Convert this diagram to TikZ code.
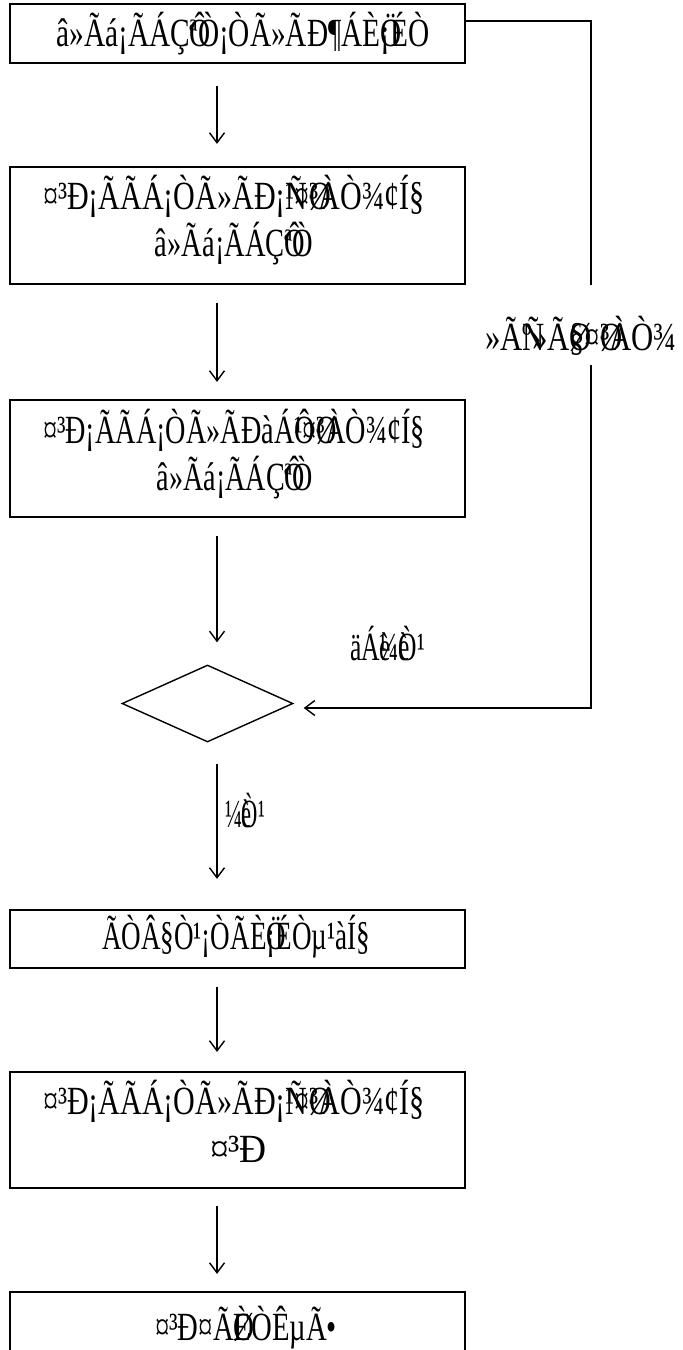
\documentclass[tikz,border=0pt]{standalone}
\usepackage{fontspec}
\usepackage{graphicx}
\setmainfont{Liberation Serif}
\usetikzlibrary{shapes.geometric,arrows.meta}
\newcommand\zw[1]{\rlap{#1}}
\newcommand\tw[2]{\resizebox{#1pt}{\height}{#2}}
\tikzset{
  flowbox/.style={draw, line width=2.2pt, rectangle, inner sep=0pt},
  conn/.style={line width=1.4pt},
  arr/.style={conn, -{Straight Barb[length=10pt,width=15pt,line width=1.4pt]}},
  txt/.style={anchor=base, inner sep=0pt, font=\fontsize{40pt}{46pt}\selectfont},
  decision/.style={draw, diamond, line width=1.4pt, inner sep=0pt, minimum width=171pt, minimum height=77pt},
}
\begin{document}
\begin{tikzpicture}[x=1pt,y=-1pt]
\useasboundingbox (0,0) rectangle (683,1350);
\begin{scope}
\clip (0,0) rectangle (683,1350);
% boxes
\node[flowbox, minimum width=455pt, minimum height=59pt] (b1) at (237.5,33.5) {};
\node[flowbox, minimum width=455pt, minimum height=117pt] (b2) at (237.5,225.5) {};
\node[flowbox, minimum width=455pt, minimum height=117pt] (b3) at (237.5,458.5) {};
\node[decision] (d) at (207.5,703.5) {};
\node[flowbox, minimum width=455pt, minimum height=58pt] (b5) at (237.5,939) {};
\node[flowbox, minimum width=455pt, minimum height=116pt] (b6) at (237.5,1130) {};
\node[flowbox, minimum width=455pt, minimum height=120pt] (b7) at (237.5,1352) {};
% texts
\node[txt] (t1) at (243,46) {\tw{373}{â»Ãá¡ÃÁÇ\zw{Ô}ªÒ¡ÒÃ»ÃÐ¶ÁÈ\zw{Ö}¡ÉÒ}};
\node[txt] (t2a) at (234,209) {\tw{382}{¤³Ð¡ÃÃÁ¡ÒÃ»ÃÐ¡\zw{Ñ}¹¤\zw{Ø}³ÀÒ¾¢Í§}};
\node[txt] (t2b) at (234,256) {\tw{158}{â»Ãá¡ÃÁÇ\zw{Ô}ªÒ}};
\node[txt] (t3a) at (234,443) {\tw{382}{¤³Ð¡ÃÃÁ¡ÒÃ»ÃÐàÁ\zw{Ô}¹¤\zw{Ø}³ÀÒ¾¢Í§}};
\node[txt] (t3b) at (235,490) {\tw{156}{â»Ãá¡ÃÁÇ\zw{Ô}ªÒ}};
\node[txt] (lfb) at (581,350) {\tw{192}{»Ã\zw{Ñ}º»Ã\zw{Ø}§¤\zw{Ø}³ÀÒ¾}};
\node[txt] (lno) at (387.5,660) {\tw{75}{äÁ\zw{è}¼\zw{è}Ò¹}};
\node[txt] (lyes) at (245,827) {\tw{40}{¼\zw{è}Ò¹}};
\node[txt] (t5) at (236,949) {\tw{268}{ÃÒÂ§Ò¹¡ÒÃÈ\zw{Ö}¡ÉÒµ¹àÍ§}};
\node[txt] (t6a) at (234,1114) {\tw{382}{¤³Ð¡ÃÃÁ¡ÒÃ»ÃÐ¡\zw{Ñ}¹¤\zw{Ø}³ÀÒ¾¢Í§}};
\node[txt] (t6b) at (238.5,1162) {\tw{57}{¤³Ð}};
\node[txt] (t7) at (246,1340) {\tw{182}{¤³Ð¤Ã\zw{Ø}ÈÒÊµÃ•}};
% connectors
\coordinate (ax) at (217,0);
\draw[arr, shorten <=22pt, shorten >=22pt] (ax |- b1.south) -- (ax |- b2.north);
\draw[arr, shorten <=18pt, shorten >=17pt] (ax |- b2.south) -- (ax |- b3.north);
\draw[arr, shorten <=18pt, shorten >=22pt] (ax |- b3.south) -- (ax |- d.north);
\draw[arr, shorten <=21pt, shorten >=30pt] (ax |- d.south) -- (ax |- b5.north);
\draw[arr, shorten <=18pt, shorten >=19pt] (ax |- b5.south) -- (ax |- b6.north);
\draw[arr, shorten <=17pt, shorten >=17pt] (ax |- b6.south) -- (ax |- b7.north);
% feedback loop
\coordinate (fb1) at (591,285);
\coordinate (fb2) at (591,365);
\draw[conn] ([yshift=12.5pt]b1.east) -| (fb1);
\draw[arr, shorten >=10pt] (fb2) |- ([yshift=-4.5pt]d.east);
\end{scope}
\end{tikzpicture}
\end{document}
